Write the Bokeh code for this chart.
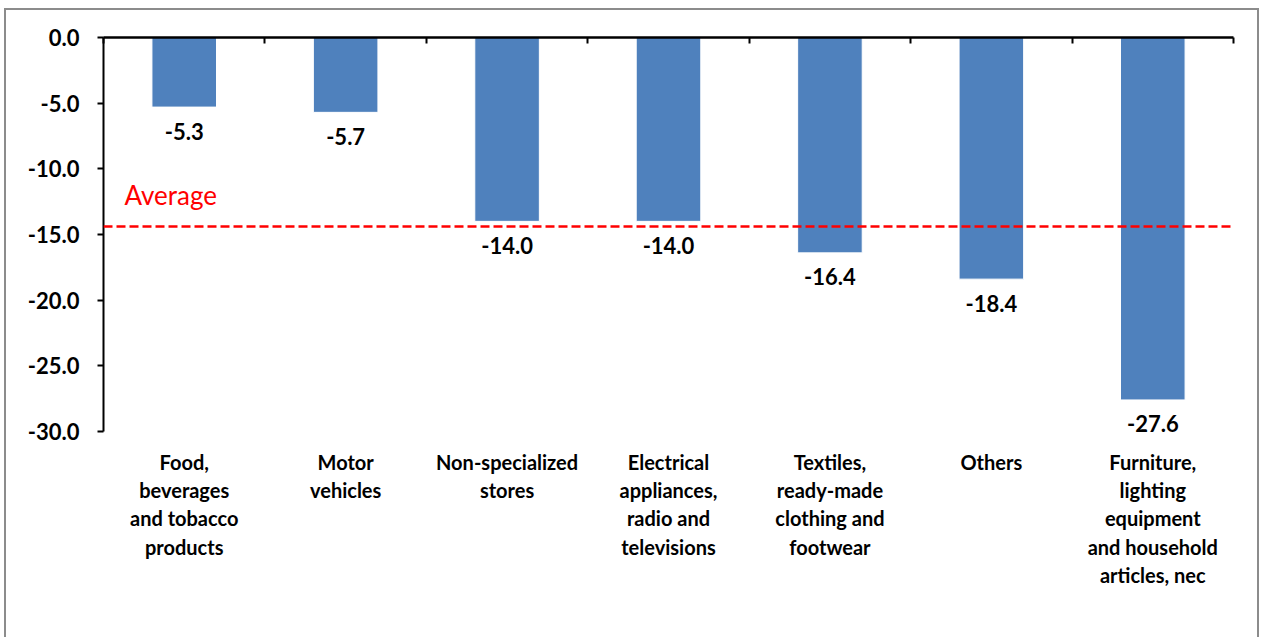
from bokeh.plotting import figure
from bokeh.models import Range1d, FixedTicker, Span, ColumnDataSource, Label, PrintfTickFormatter
from bokeh.core.properties import value
from bokeh.embed import file_html
from bokeh.resources import INLINE

categories = [
    "Food,\nbeverages\nand tobacco\nproducts",
    "Motor\nvehicles",
    "Non-specialized\nstores",
    "Electrical\nappliances,\nradio and\ntelevisions",
    "Textiles,\nready-made\nclothing and\nfootwear",
    "Others",
    "Furniture,\nlighting\nequipment\nand household\narticles, nec",
]
values = [-5.3, -5.7, -14.0, -14.0, -16.4, -18.4, -27.6]
average = -14.4
y_ticks = [0, -5, -10, -15, -20, -25, -30]

xs = [i + 0.5 for i in range(len(values))]
src = ColumnDataSource(dict(
    x=xs, top=values, cat=categories,
    lab=[f"{v:.1f}" for v in values],
    cat_y=[-31.4] * len(values),
))

FONT = "Lato"
BORDER = "#8c8c8c"

p = figure(width=1263, height=637, x_range=Range1d(0, 7), y_range=Range1d(-45.69, 0),
           x_axis_location="above", output_backend="svg", toolbar_location=None,
           min_border_left=103, min_border_right=30, min_border_top=37, min_border_bottom=0)
p.xgrid.visible = False
p.ygrid.visible = False
p.outline_line_color = None
p.border_fill_color = None
p.background_fill_color = None

# chart-area border drawn behind the transparent canvas
g = f"linear-gradient({BORDER},{BORDER})"
p.styles = {
    "background-color": "white",
    "background-image": f"{g},{g},{g}",
    "background-size": "2px 640px, 2px 640px, 1255px 2px",
    "background-position": "4px 8px, 1257px 8px, 4px 8px",
    "background-repeat": "no-repeat",
}

p.vbar(x="x", top="top", bottom=0, width=0.4, source=src,
       fill_color="#4F81BD", line_color="white", line_width=1)

# average line
p.add_layout(Span(location=average, dimension="width", line_color="red",
                  line_dash="9 4", line_width=2.5))
p.add_layout(Label(x=0.13, y=-12.03, text="Average", text_color="red",
                   text_font=FONT, text_font_size="26px", text_baseline="alphabetic"))

# data labels
p.text(x="x", y="top", text="lab", source=src, y_offset=24,
       text_align="center", text_baseline="middle",
       text_font=value(FONT), text_font_style="bold", text_font_size="22px", text_color="black")

# category labels
p.text(x="x", y="cat_y", text="cat", source=src,
       text_align="center", text_baseline="top", text_line_height=1.18,
       text_font=value(FONT), text_font_style="bold", text_font_size="20px", text_color="black")

# x axis (top)
xa = p.xaxis[0]
xa.ticker = FixedTicker(ticks=list(range(8)))
xa.major_label_overrides = {i: "" for i in range(8)}
xa.major_tick_in = 6
xa.major_tick_out = 0
xa.minor_tick_line_color = None
xa.axis_line_width = 2.5
xa.major_tick_line_width = 2
xa.axis_line_color = "black"

# y axis
ya = p.yaxis[0]
ya.ticker = FixedTicker(ticks=y_ticks)
ya.formatter = PrintfTickFormatter(format="%.1f")
ya.bounds = (-30, 0)
ya.major_tick_in = 0
ya.major_tick_out = 6
ya.minor_tick_line_color = None
ya.axis_line_width = 2
ya.major_tick_line_width = 2
ya.major_label_standoff = 18
ya.major_label_text_font = FONT
ya.major_label_text_font_style = "bold"
ya.major_label_text_font_size = "22px"
ya.major_label_text_color = "black"

open("out.html", "w").write(file_html(p, INLINE))
